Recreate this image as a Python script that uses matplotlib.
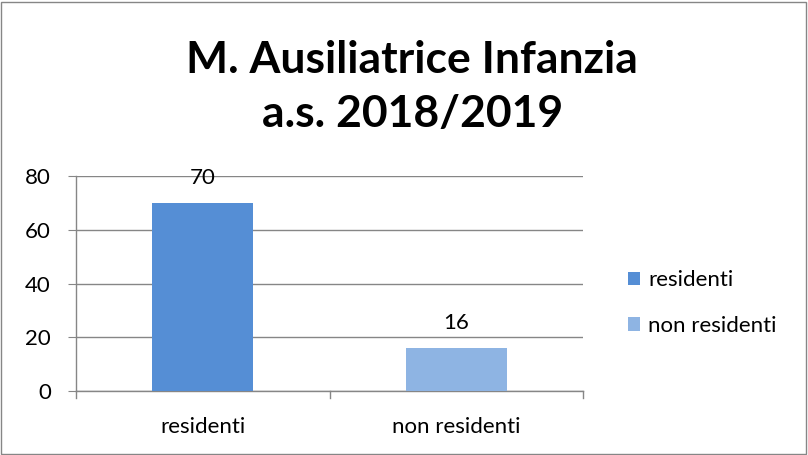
import matplotlib
matplotlib.use("Agg")
import matplotlib.pyplot as plt
from matplotlib.patches import Patch, Rectangle

categories = ["residenti", "non residenti"]
values = [70, 16]
colors = ["#558ED5", "#8EB4E3"]
yticks = [0, 20, 40, 60, 80]
title = "M. Ausiliatrice Infanzia\na.s. 2018/2019"

plt.rcParams['font.family'] = ['Lato', 'DejaVu Sans']

W, H = 808, 455
fig = plt.figure(figsize=(W / 100, H / 100), dpi=100)
fig.patch.set_facecolor("white")
fig.patches.append(Rectangle((1 / W, 1 / H), 1 - 3 / W, 1 - 3 / H, transform=fig.transFigure,
                             fill=False, edgecolor="#868686", linewidth=1.0))

ax = fig.add_axes([76 / W, 1 - 391 / H, 507 / W, 215 / H])
x = list(range(len(categories)))
bars = ax.bar(x, values, width=0.4, color=colors, zorder=3)
ax.set_xlim(-0.5, len(categories) - 0.5)
ax.set_ylim(0, 80)
ax.set_yticks(yticks)
ax.set_yticklabels([str(t) for t in yticks], fontsize=16)
ax.set_xticks(x)
ax.set_xticklabels(categories, fontsize=16)
ax.tick_params(axis='x', length=0, pad=19)
ax.tick_params(axis='y', length=6, color="#868686", pad=12)
ax.grid(axis='y', color="#868686", linewidth=1.0, zorder=0)
for s in ["top", "right"]:
    ax.spines[s].set_visible(False)
for s in ["left", "bottom"]:
    ax.spines[s].set_color("#868686")
    ax.spines[s].set_linewidth(1.0)
# category boundary tick marks on x axis
for b in [-0.5, 0.5, 1.5]:
    ax.plot([b, b], [0, -2.6], color="#868686", linewidth=1.0, clip_on=False, zorder=4)

for xi, v in zip(x, values):
    ax.annotate(str(v), (xi, v), xytext=(0, 11), textcoords="offset points",
                ha="center", va="bottom", fontsize=16)

fig.text(0.51, 1 - 87 / H, title, ha="center", va="center", fontsize=32,
         fontweight="bold", linespacing=1.42)

handles = [Patch(facecolor=c, edgecolor="none") for c in colors]
fig.legend(handles, categories, loc="center left", bbox_to_anchor=(608 / W, 1 - 303 / H),
           frameon=False, fontsize=16, handlelength=0.55, handleheight=0.55,
           handletextpad=0.35, labelspacing=1.15)

fig.savefig("out.png", dpi=100)
